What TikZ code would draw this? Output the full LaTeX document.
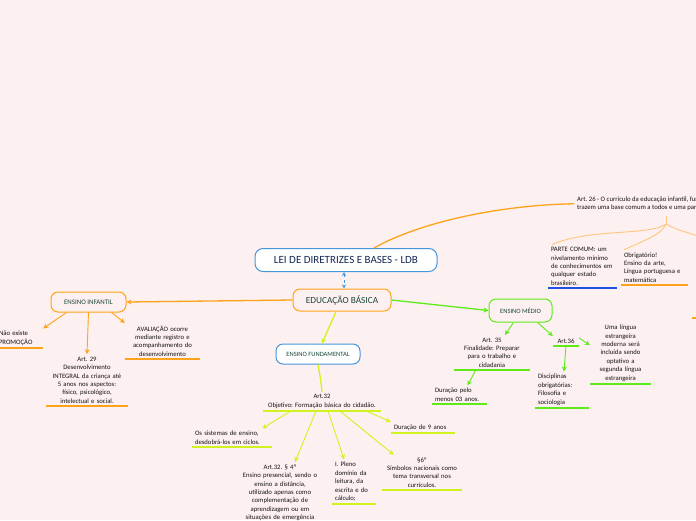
\documentclass[tikz,border=0pt]{standalone}
\usepackage{fontspec}
\setmainfont{Carlito}
\usepackage{tikz}
\usetikzlibrary{positioning, arrows.meta}

\definecolor{bgpink}{RGB}{253,240,240}
\definecolor{mmorange}{RGB}{255,163,26}
\definecolor{mmlightorange}{RGB}{255,198,125}
\definecolor{mmgreen}{RGB}{95,235,25}
\definecolor{mmlime}{RGB}{208,243,30}
\definecolor{mmblue}{RGB}{70,150,220}
\definecolor{mmdarkblue}{RGB}{30,80,230}
\definecolor{rootink}{RGB}{20,40,85}
\definecolor{branchink}{RGB}{25,70,55}
\definecolor{leafink}{RGB}{20,20,20}

\newcommand{\leaffont}{\fontsize{6.7}{8.4}\selectfont}
\frenchspacing

\begin{document}
\begin{tikzpicture}[
    x=1pt,y=-1pt,
    root/.style={draw=mmblue, line width=1pt, rounded corners=8pt, fill=white, minimum width=182pt, minimum height=23pt, text=rootink, font=\fontsize{11}{12}\selectfont},
    branch/.style={draw, line width=1pt, rounded corners=7pt, minimum height=20pt, inner xsep=6pt, text=branchink, font=\fontsize{6.5}{7}\selectfont},
    leaf/.style={inner xsep=3pt, inner ysep=2.5pt, text=leafink, font=\leaffont},
    arr/.style={line width=0.9pt, -{Stealth[length=5pt,width=5pt]}},
    link/.style={line width=1.3pt},
    ulorange/.style={draw=mmorange, line width=1.3pt},
    ulgreen/.style={draw=mmgreen, line width=1.3pt},
    ullime/.style={draw=mmlime, line width=1.3pt},
    ulblue/.style={draw=mmdarkblue, line width=1.3pt}
]
    \fill[bgpink] (0,0) rectangle (696,520);
    \useasboundingbox (0,0) rectangle (696,520);

    % --- Main nodes ---
    \node[root] (ldb) at (346,260) {LEI DE DIRETRIZES E BASES - LDB};
    \node[branch, draw=mmorange, fill=bgpink, minimum width=98pt, minimum height=22pt, font=\fontsize{9.3}{10}\selectfont] (eb) at (342,300) {EDUCAÇÃO BÁSICA};
    \node[branch, draw=mmorange, fill=bgpink, minimum width=75pt, font=\fontsize{6.9}{7}\selectfont] (ei) at (88.5,302) {ENSINO INFANTIL};
    \node[branch, draw=mmblue, fill=white, minimum width=84pt] (ef) at (318,354) {ENSINO FUNDAMENTAL};
    \node[branch, draw=mmgreen, fill=bgpink, minimum width=63pt, minimum height=23pt] (em) at (520.5,310.5) {ENSINO MÉDIO};

    % --- Art. 26 ---
    \node[leaf, anchor=north west, align=left] (art26) at (574,194) {Art. 26 - O currículo da educação infantil, fundamental e médio\\trazem uma base comum a todos e uma parte diversificada};
    \node[leaf, anchor=south, text width=63pt, align=left] (partecomum) at (582.5,288) {PARTE COMUM: um\\nivelamento mínimo\\de conhecimentos em\\qualquer estado\\brasileiro.};
    \node[leaf, anchor=south, text width=61pt, align=left] (obrig) at (654.5,285) {Obrigatório!\\Ensino da arte,\\Língua portuguesa e\\matemática};
    \coordinate (bracetop) at (666,216);
    \coordinate (bracemid) at (666,224);
    \coordinate (offleaf) at (692,318);

    % --- Ensino infantil ---
    \node[leaf, anchor=south, text width=41pt, align=left] (nopromo) at (19.5,348) {Não existe\\PROMOÇÃO};
    \node[leaf, anchor=south, text width=76pt, align=center] (art29) at (87,406) {Art. 29\\Desenvolvimento\\INTEGRAL da criança até\\5 anos nos aspectos:\\físico, psicológico,\\intelectual e social.};
    \node[leaf, anchor=south, text width=69pt, align=center] (avaliacao) at (162.5,359) {AVALIAÇÃO ocorre\\mediante registro e\\acompanhamento do\\desenvolvimento};

    % --- Ensino fundamental ---
    \node[leaf, anchor=south, text width=112pt, align=center] (art32) at (322,411) {Art.32\\Objetivo: Formação básica do cidadão.};
    \node[leaf, anchor=south, text width=74pt, align=left] (sistemas) at (232,447) {Os sistemas de ensino,\\desdobrá-los em ciclos.};
    \node[leaf, anchor=south, text width=58pt, align=left] (nove) at (423,433) {Duração de 9 anos};
    \node[leaf, anchor=north, text width=86pt, align=center] (art324) at (280,462) {Art.32. § 4º\\Ensino presencial, sendo o\\ensino a distância,\\utilizado apenas como\\complementação de\\aprendizagem ou em\\situações de emergência};
    \node[leaf, anchor=south, text width=38pt, align=left] (pleno) at (354,504) {I. Pleno\\domínio da\\leitura, da\\escrita e do\\cálculo;};
    \node[leaf, anchor=south, text width=74pt, align=center] (simbolos) at (422,490) {§6º\\Símbolos nacionais como\\tema transversal nos\\currículos.};

    % --- Ensino medio ---
    \node[leaf, anchor=south, text width=70pt, align=center] (art35) at (492,370) {Art. 35\\Finalidade: Preparar\\para o trabalho e\\cidadania};
    \node[leaf, anchor=south, text width=49pt, align=left] (dur03) at (459.5,404) {Duração pelo\\menos 03 anos.};
    \node[leaf, anchor=south, text width=20pt, align=center] (art36) at (566,346) {Art.36};
    \node[leaf, anchor=south, text width=48pt, align=left] (discip) at (562,408) {Disciplinas\\obrigatórias:\\Filosofia e\\sociologia};
    \node[leaf, anchor=south, text width=55pt, align=center] (lingua) at (620.5,384) {Uma língua\\estrangeira\\moderna será\\incluída sendo\\optativo a\\segunda língua\\estrangeira};

    % --- Underlines ---
    \draw[ulblue] (partecomum.south west) -- (partecomum.south east);
    \draw[ulorange] (obrig.south west) -- (obrig.south east);
    \draw[ulorange] (offleaf) -- ++(8,0);
    \draw[ulorange] (nopromo.south west) -- (nopromo.south east);
    \draw[ulorange] (art29.south west) -- (art29.south east);
    \draw[ulorange] (avaliacao.south west) -- (avaliacao.south east);
    \draw[ullime] (art32.south west) -- (art32.south east);
    \draw[ullime] (sistemas.south west) -- (sistemas.south east);
    \draw[ullime] (nove.south west) -- (nove.south east);
    \draw[ullime] (pleno.south west) -- (pleno.south east);
    \draw[ullime] (simbolos.south west) -- (simbolos.south east);
    \draw[ulgreen] (art35.south west) -- (art35.south east);
    \draw[ulgreen] (dur03.south west) -- (dur03.south east);
    \draw[ulgreen] (art36.south west) -- (art36.south east);
    \draw[ulgreen] (discip.south west) -- (discip.south east);
    \draw[ulgreen] (lingua.south west) -- (lingua.south east);

    % --- Connectors ---
    \draw[mmblue, line width=0.9pt, dashed, {Stealth[length=4pt,width=4pt]}-{Stealth[length=4pt,width=4pt]}] (ldb.south -| eb.north) ++(2,0) -- ([xshift=2pt]eb.north);
    \draw[mmorange, link] ([xshift=28pt]ldb.north) .. controls (420,222) and (500,205) .. (art26.west);
    \draw[mmlightorange, line width=0.9pt] (bracetop) -- (bracemid);
    \draw[mmlightorange, line width=0.9pt] (bracemid) .. controls (650,236) and (590,228) .. ([xshift=4pt]partecomum.north west);
    \draw[mmlightorange, line width=0.9pt] (bracemid) .. controls (662,232) and (656,236) .. ([xshift=3pt]obrig.north west);
    \draw[mmlightorange, line width=0.9pt] (bracemid) .. controls (680,232) and (690,232) .. (702,238);

    \draw[mmorange, arr, link] (eb.west) -- (ei.east);
    \draw[mmgreen, arr, link] (eb.east) -- (em.west);
    \draw[mmlime, arr, link] ([xshift=-6pt]eb.south) -- ([xshift=4pt]ef.north);

    \draw[mmorange, arr] ([xshift=16pt]ei.south west) -- (nopromo.north east);
    \draw[mmorange, arr] (ei.south) -- (art29.north);
    \draw[mmorange, arr] ([xshift=-15pt]ei.south east) -- (avaliacao.north west);

    \draw[mmlime, link] (ef.south) .. controls (320,375) and (321,382) .. (art32.north);
    \draw[mmlime, arr] ([xshift=28pt]art32.south west) -- ([xshift=-10pt]sistemas.north east);
    \draw[mmlime, arr] ([xshift=-15pt]art32.south east) -- (nove.north west);
    \draw[mmlime, arr] ([xshift=-6pt]art32.south) -- ([xshift=15pt]art324.north);
    \draw[mmlime, arr] ([xshift=6pt]art32.south) -- ([xshift=-10pt]pleno.north);
    \draw[mmlime, arr] ([xshift=18pt]art32.south) -- ([xshift=12pt]simbolos.north west);

    \draw[mmgreen, arr] ([xshift=-7pt]em.south) -- ([xshift=13pt]art35.north);
    \draw[mmgreen, arr] ([xshift=17pt]em.south) -- (art36.north west);
    \draw[mmgreen, arr] ([xshift=22pt]art35.south west) -- ([xshift=8pt]dur03.north);
    \draw[mmgreen, arr] (art36.south) -- ([xshift=2pt]discip.north);
    \draw[mmgreen, arr] ([yshift=3pt]art36.east) -- ([yshift=8pt]lingua.west);

\end{tikzpicture}
\end{document}
